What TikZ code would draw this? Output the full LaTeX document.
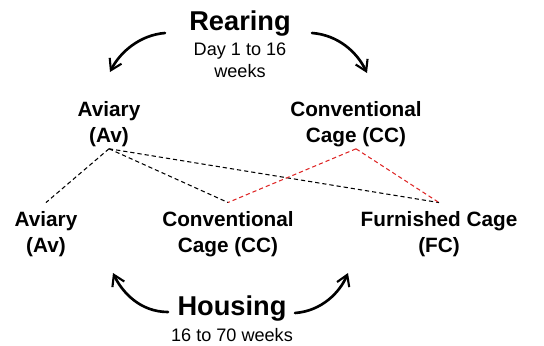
\documentclass[tikz,border=0pt]{standalone}
\usepackage{fontspec}
\setmainfont{Liberation Sans}
\usetikzlibrary{positioning,arrows.meta}
\definecolor{FlowRed}{RGB}{222,38,38}

\begin{document}
\begin{tikzpicture}[x=0.02cm, y=-0.02cm, node distance=0.05cm,
  every node/.style={align=center, inner sep=1pt},
  phase/.style={font=\bfseries\fontsize{15.5}{18}\selectfont},
  period/.style={font=\fontsize{10.3}{12.5}\selectfont},
  system/.style={font=\bfseries\fontsize{11.8}{14.8}\selectfont},
  lower/.style={system, outer sep=4pt},
  sweep/.style={-{Straight Barb[length=6pt,width=7.5pt,line width=1.2pt]}, line width=1.5pt, line cap=round},
  link/.style={dash pattern=on 2.4pt off 1.7pt, line width=0.6pt}]
  \useasboundingbox (0,0) rectangle (544,345);
  \node[phase, anchor=base] (rearing) at (240,30) {Rearing};
  \node[period, below=of rearing] (rearingtime) {Day 1 to 16\\weeks};
  \node[phase, anchor=base] (housing) at (232,315) {Housing};
  \node[period, below=0.07cm of housing] (housingtime) {16 to 70 weeks};
  % rearing systems
  \node[system] (rearav) at (109,124) {Aviary\\(Av)};
  \node[system] (rearcc) at (356,124) {Conventional\\Cage (CC)};
  % housing systems
  \node[lower] (housav) at (46,234) {Aviary\\(Av)};
  \node[lower] (houscc) at (228,234) {Conventional\\Cage (CC)};
  \node[lower] (housfc) at (439,234) {Furnished Cage\\(FC)};
  % arrow ends
  \coordinate (rearfromL) at (165,33);
  \coordinate (reartoL) at (110,72);
  \coordinate (rearfromR) at (312,33);
  \coordinate (reartoR) at (367,73);
  \coordinate (housfromL) at (168,312);
  \coordinate (houstoL) at (113,273);
  \coordinate (housfromR) at (295,313);
  \coordinate (houstoR) at (348,273);
  \draw[sweep] (rearfromL) .. controls (140,35) and (120,52) .. (reartoL);
  \draw[sweep] (rearfromR) .. controls (338,35) and (357,52) .. (reartoR);
  \draw[sweep] (housfromL) .. controls (140,312) and (122,292) .. (houstoL);
  \draw[sweep] (housfromR) .. controls (322,311) and (340,292) .. (houstoR);
  \foreach \x/\y in {rearav/housav,rearav/houscc,rearav/housfc}
    \draw[link] (\x.south) -- (\y.north);
  \foreach \x/\y in {rearcc/houscc,rearcc/housfc}
    \draw[link, FlowRed] (\x.south) -- (\y.north);
\end{tikzpicture}
\end{document}
